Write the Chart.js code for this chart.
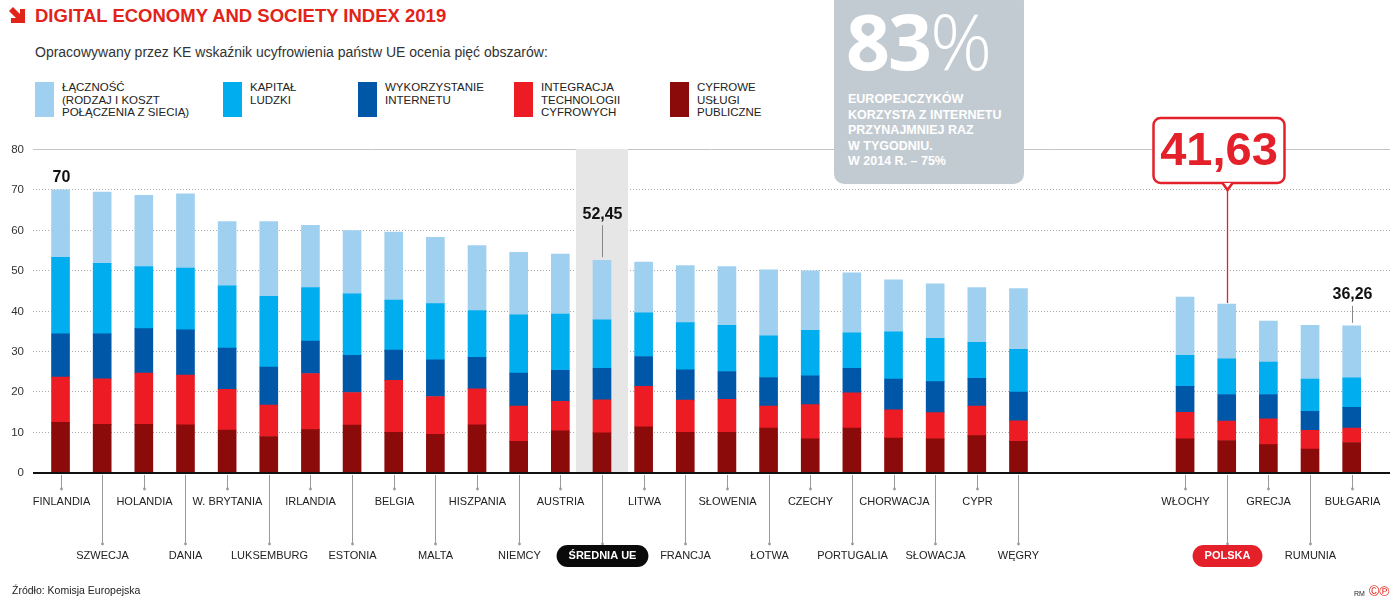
<!DOCTYPE html>
<html lang="pl">
<head>
<meta charset="utf-8">
<script src="https://cdn.jsdelivr.net/npm/chart.js@4.4.1/dist/chart.umd.min.js"></script>
<style>
body { margin:0; width:1400px; height:613px; position:relative; background:#fff; overflow:hidden;
  font-family:"Liberation Sans Narrow","Liberation Sans",Arial,sans-serif; color:#222; }
#chart { position:absolute; left:0; top:0; }
.title { position:absolute; left:35px; top:5px; font-size:18.5px; font-weight:bold; color:#e2231a; white-space:nowrap; }
.arrow { position:absolute; left:9px; top:7px; }
.sub { position:absolute; left:35px; top:44px; font-size:14px; color:#333; white-space:nowrap; }
.leg { position:absolute; top:82px; }
.leg i { position:absolute; left:0; top:0; width:19px; height:35px; }
.leg span { position:absolute; left:27px; top:-1px; font-size:11.5px; line-height:12.6px; white-space:nowrap; }
.big { position:absolute; left:834px; top:-8px; width:190px; height:192px; border-radius:10px; background:#c3cbd2; color:#fff; }
.big b { position:absolute; left:12px; top:-4px; font-size:77px; font-family:"Open Sans","Liberation Sans",sans-serif; font-weight:bold; letter-spacing:-2px; }
.big em { font-style:normal; font-weight:300; }
.big p { position:absolute; left:14px; top:100px; margin:0; font-size:12.5px; line-height:15.5px; font-weight:bold; white-space:nowrap; }
.src { position:absolute; left:12px; top:584px; font-size:10.5px; }
.cred { position:absolute; left:1354px; top:583px; font-size:7px; }
.cred span { color:#e2231a; font-size:14px; margin-left:4px; }
</style>
</head>
<body>
<svg class="arrow" width="17" height="17" viewBox="0 0 17 17"><polygon points="0,4 4,0 11,7 11,2 16,2 16,16 2,16 2,11 7,11" fill="#e2231a"/></svg>
<div class="title">DIGITAL ECONOMY AND SOCIETY INDEX 2019</div>
<div class="sub">Opracowywany przez KE wskaźnik ucyfrowienia państw UE ocenia pięć obszarów:</div>
<div class="leg" style="left:35px"><i style="background:#9fd0ef"></i><span>ŁĄCZNOŚĆ<br>(RODZAJ I KOSZT<br>POŁĄCZENIA Z SIECIĄ)</span></div>
<div class="leg" style="left:223px"><i style="background:#00aeef"></i><span>KAPITAŁ<br>LUDZKI</span></div>
<div class="leg" style="left:358px"><i style="background:#0057a8"></i><span>WYKORZYSTANIE<br>INTERNETU</span></div>
<div class="leg" style="left:514px"><i style="background:#ed1c24"></i><span>INTEGRACJA<br>TECHNOLOGII<br>CYFROWYCH</span></div>
<div class="leg" style="left:670px"><i style="background:#8b0a0a"></i><span>CYFROWE<br>USŁUGI<br>PUBLICZNE</span></div>
<canvas id="chart" width="1400" height="613"></canvas>
<div class="big"><b>83<em>%</em></b><p>EUROPEJCZYKÓW<br>KORZYSTA Z INTERNETU<br>PRZYNAJMNIEJ RAZ<br>W TYGODNIU.<br>W 2014 R. – 75%</p></div>
<div class="src">Źródło: Komisja Europejska</div>
<div class="cred">RM<span>©℗</span></div>
<script>
// kraje, puste pozycje = przerwa miedzy grupami
var categories = ["FINLANDIA","SZWECJA","HOLANDIA","DANIA","W. BRYTANIA","LUKSEMBURG","IRLANDIA","ESTONIA",
  "BELGIA","MALTA","HISZPANIA","NIEMCY","AUSTRIA","ŚREDNIA UE","LITWA","FRANCJA","SŁOWENIA","ŁOTWA",
  "CZECHY","PORTUGALIA","CHORWACJA","SŁOWACJA","CYPR","WĘGRY","","","","WŁOCHY","POLSKA","GRECJA","RUMUNIA","BUŁGARIA"];
var publicServices = [12.3,11.8,11.8,11.7,10.4,8.8,10.5,11.6,9.8,9.3,11.7,7.6,10.2,9.7,11.2,9.8,9.8,10.9,8.2,10.9,8.4,8.2,9.0,7.6,null,null,null,8.2,7.8,6.8,5.7,7.3];
var integration    = [11.2,11.3,12.7,12.3,10.1,7.8,13.9,8.1,12.9,9.4,8.9,8.7,7.3,8.2,10.0,8.0,8.2,5.4,8.5,8.7,7.0,6.5,7.3,5.1,null,null,null,6.6,4.8,6.4,4.6,3.6];
var internetUse    = [10.7,11.1,11.0,11.2,10.2,9.4,8.0,9.2,7.5,9.1,7.8,8.2,7.7,7.8,7.4,7.5,6.9,7.1,7.1,6.1,7.6,7.7,6.9,7.1,null,null,null,6.4,6.6,6.0,4.7,5.1];
var humanCapital   = [19.0,17.5,15.4,15.3,15.4,17.5,13.3,15.2,12.4,13.9,11.6,14.4,13.9,12.0,10.8,11.7,11.4,10.3,11.3,8.8,11.7,10.7,8.9,10.6,null,null,null,7.7,8.8,8.0,8.0,7.3];
var connectivity   = [16.7,17.6,17.6,18.4,15.9,18.5,15.4,15.7,16.8,16.4,16.1,15.5,14.9,14.75,12.6,14.1,14.6,16.4,14.7,14.8,12.9,13.5,13.6,15.0,null,null,null,14.4,13.6,10.2,13.3,12.9];
var yTicks = [0,10,20,30,40,50,60,70,80];
var callouts = [{i:0, text:"70"}, {i:13, text:"52,45"}, {i:31, text:"36,26"}];
var avgIndex = 13, polandIndex = 28, polandText = "41,63";

var FONT = '"Liberation Sans Narrow","Liberation Sans",Arial,sans-serif';

function total(i) {
  return publicServices[i] + integration[i] + internetUse[i] + humanCapital[i] + connectivity[i];
}

function roundRect(ctx, x, y, w, h, r) {
  ctx.beginPath();
  ctx.moveTo(x + r, y);
  ctx.arcTo(x + w, y, x + w, y + h, r);
  ctx.arcTo(x + w, y + h, x, y + h, r);
  ctx.arcTo(x, y + h, x, y, r);
  ctx.arcTo(x, y, x + w, y, r);
  ctx.closePath();
}

var overlay = {
  id: 'overlay',
  beforeDatasetsDraw: function(chart) {
    var ctx = chart.ctx, x = chart.scales.x, y = chart.scales.y;
    ctx.save();
    ctx.font = '11.5px ' + FONT;
    ctx.fillStyle = '#333';
    ctx.textAlign = 'right';
    ctx.textBaseline = 'middle';
    yTicks.forEach(function(v) {
      var py = Math.round(y.getPixelForValue(v)) + 0.5;
      ctx.fillText(String(v), 24, py);
      if (v === 0) return;
      ctx.beginPath();
      if (v === 80) { ctx.setLineDash([]); ctx.strokeStyle = '#c4c4c4'; }
      else { ctx.setLineDash([1, 2]); ctx.strokeStyle = '#aaa'; }
      ctx.lineWidth = 1;
      ctx.moveTo(33, py); ctx.lineTo(1390, py); ctx.stroke();
    });
    ctx.setLineDash([]);
    // szare tlo sredniej UE
    var ax = x.getPixelForValue(avgIndex);
    var top = y.getPixelForValue(80), bot = y.getPixelForValue(0);
    ctx.fillStyle = '#e6e6e6';
    ctx.fillRect(ax - 26, top, 52, bot - top);
    ctx.restore();
  },
  afterDatasetsDraw: function(chart) {
    var ctx = chart.ctx, x = chart.scales.x, y = chart.scales.y;
    var base = Math.round(y.getPixelForValue(0));
    ctx.save();
    // os zero
    ctx.strokeStyle = '#111';
    ctx.lineWidth = 2;
    ctx.beginPath(); ctx.moveTo(33, base + 1); ctx.lineTo(1390, base + 1); ctx.stroke();

    // podpisy krajow w dwoch rzedach
    var n = 0;
    ctx.textAlign = 'center';
    ctx.textBaseline = 'middle';
    categories.forEach(function(name, i) {
      if (!name) { n = 0; return; }
      var px = Math.round(x.getPixelForValue(i)) + 0.5;
      var low = n % 2 === 1;
      n++;
      var end = low ? 544 : 489;
      ctx.strokeStyle = '#9a9a9a';
      ctx.lineWidth = 1;
      ctx.beginPath(); ctx.moveTo(px, base + 3); ctx.lineTo(px, end); ctx.stroke();
      ctx.fillStyle = '#9a9a9a';
      ctx.beginPath(); ctx.arc(px, end, 1.4, 0, Math.PI * 2); ctx.fill();
      var ty = low ? 556 : 502;
      if (i === avgIndex || i === polandIndex) {
        ctx.font = 'bold 11px ' + FONT;
        var w = ctx.measureText(name).width + 24;
        ctx.fillStyle = i === avgIndex ? '#0a0a0a' : '#e4202a';
        roundRect(ctx, px - w / 2, ty - 11, w, 22, 11);
        ctx.fill();
        ctx.fillStyle = '#fff';
      } else {
        ctx.font = '11px ' + FONT;
        ctx.fillStyle = '#222';
      }
      ctx.fillText(name, px, ty);
    });

    // wartosci nad slupkami
    ctx.font = 'bold 16px ' + FONT;
    ctx.fillStyle = '#111';
    callouts.forEach(function(c) {
      var px = Math.round(x.getPixelForValue(c.i)) + 0.5;
      var py = y.getPixelForValue(total(c.i));
      if (c.i === 0) {
        ctx.fillText(c.text, px, py - 12);
        return;
      }
      var gap = c.i === avgIndex ? 46 : 31;
      ctx.fillText(c.text, px, py - gap);
      ctx.strokeStyle = '#888';
      ctx.lineWidth = 1;
      ctx.beginPath(); ctx.moveTo(px, py - gap + 11); ctx.lineTo(px, py - 3); ctx.stroke();
    });

    // ramka Polski
    var qx = Math.round(x.getPixelForValue(polandIndex)) + 0.5;
    var qy = y.getPixelForValue(total(polandIndex));
    var bx = qx - 74, by = 118, bw = 131, bh = 65;
    ctx.fillStyle = '#fff';
    ctx.strokeStyle = '#e4202a';
    ctx.lineWidth = 2.5;
    roundRect(ctx, bx, by, bw, bh, 7);
    ctx.fill(); ctx.stroke();
    ctx.beginPath();
    ctx.moveTo(qx - 5, by + bh); ctx.lineTo(qx, by + bh + 7); ctx.lineTo(qx + 5, by + bh);
    ctx.fillStyle = '#fff'; ctx.fill();
    ctx.stroke();
    ctx.lineWidth = 1.3;
    ctx.beginPath(); ctx.moveTo(qx, by + bh + 7); ctx.lineTo(qx, qy - 1); ctx.stroke();
    ctx.fillStyle = '#e4202a';
    ctx.font = 'bold 47px ' + FONT;
    ctx.fillText(polandText, bx + bw / 2, by + bh / 2 + 2);
    ctx.restore();
  }
};

function ds(label, data, color) {
  return { label: label, data: data, backgroundColor: color, borderWidth: 0, barThickness: 18 };
}

new Chart(document.getElementById('chart'), {
  type: 'bar',
  data: {
    labels: categories,
    datasets: [
      ds('Cyfrowe usługi publiczne', publicServices, '#8b0a0a'),
      ds('Integracja technologii cyfrowych', integration, '#ed1c24'),
      ds('Wykorzystanie internetu', internetUse, '#0057a8'),
      ds('Kapitał ludzki', humanCapital, '#00aeef'),
      ds('Łączność', connectivity, '#9fd0ef')
    ]
  },
  options: {
    responsive: false,
    animation: false,
    layout: { padding: { left: 39.7, right: 27.5, top: 149, bottom: 141 } },
    plugins: { legend: { display: false }, tooltip: { enabled: false } },
    scales: {
      x: { stacked: true, display: false },
      y: { stacked: true, display: false, min: 0, max: 80 }
    }
  },
  plugins: [overlay]
});
</script>
</body>
</html>
